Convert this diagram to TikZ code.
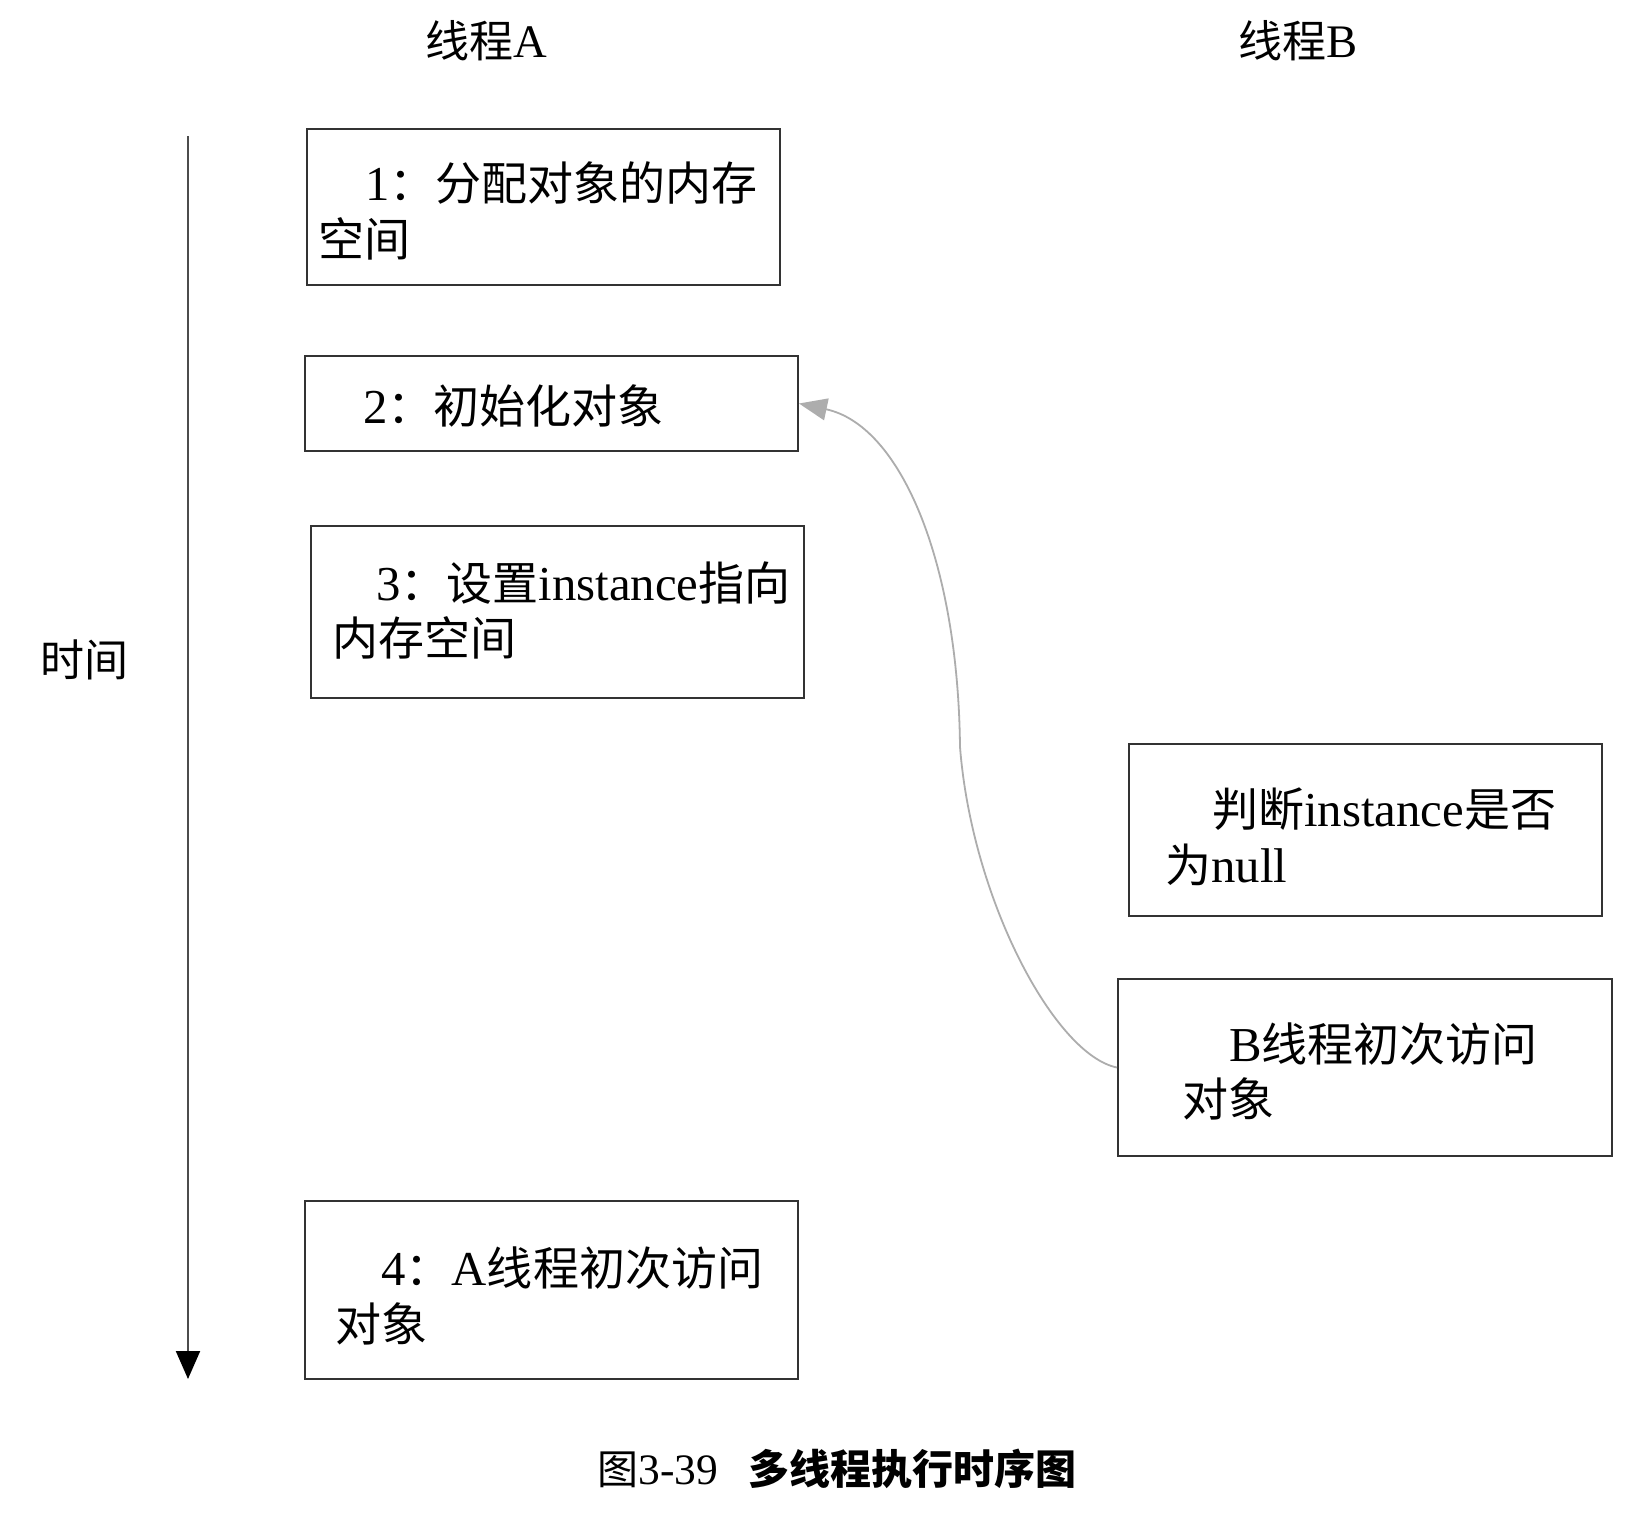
\documentclass[tikz,border=0pt]{standalone}
\usepackage{fontspec}
\setmainfont{Liberation Serif}[Scale=1.06]
\newfontfamily\cjk{Noto Sans CJK SC}
\newcommand\zh[1]{{\cjk #1}}
\usetikzlibrary{arrows.meta}
\begin{document}
\begin{tikzpicture}[x=0.5pt,y=-0.5pt,
  box/.style={draw=black!80, line width=1pt, inner sep=0pt},
  txt/.style={anchor=base west, inner sep=0pt, font=\fontsize{23pt}{27pt}\selectfont},
  lbl/.style={anchor=base west, inner sep=0pt, font=\fontsize{22pt}{26pt}\selectfont},
  captxt/.style={anchor=base west, inner sep=0pt, font=\fontsize{20.5pt}{24pt}\selectfont},
  axisline/.style={draw=black!70, line width=1pt, -{Triangle[length=14pt,width=12pt,color=black]}},
  linkline/.style={draw=black!32, line width=0.9pt, -{Triangle[length=14pt,width=11pt]}}
]
\useasboundingbox[fill=white] (0,0) rectangle (1636,1516);

% boxes
\node[box, minimum width=236.5pt, minimum height=78pt]   (bx1) at (543.5,207) {};
\node[box, minimum width=246.5pt, minimum height=47.5pt] (bx2) at (551.5,403.5) {};
\node[box, minimum width=246.5pt, minimum height=86pt]   (bx3) at (557.5,612) {};
\node[box, minimum width=236.5pt, minimum height=86pt]   (bb1) at (1365.5,830) {};
\node[box, minimum width=247pt,   minimum height=88.5pt] (bb2) at (1365,1067.5) {};
\node[box, minimum width=246.5pt, minimum height=89pt]   (bx4) at (551.5,1290) {};

% box texts
\node[txt] (t1a) at (365,200) {1\zh{：分配对象的内存}};
\node[txt] (t1b) at (318,256) {\zh{空间}};
\node[txt] (t2)  at (363,423) {2\zh{：初始化对象}};
\node[txt] (t3a) at (376,600) {3\zh{：设置}instance\zh{指向}};
\node[txt] (t3b) at (332,655) {\zh{内存空间}};
\node[txt] (tb1a) at (1212,826) {\zh{判断}instance\zh{是否}};
\node[txt] (tb1b) at (1165,882) {\zh{为}null};
\node[txt] (tb2a) at (1229,1061) {B\zh{线程初次访问}};
\node[txt] (tb2b) at (1182,1116) {\zh{对象}};
\node[txt] (t4a) at (381,1285) {4\zh{：}A\zh{线程初次访问}};
\node[txt] (t4b) at (335,1341) {\zh{对象}};

% labels
\node[lbl] (la) at (425,57) {\zh{线程}A};
\node[lbl] (lb) at (1238,57) {\zh{线程}B};
\node[lbl] (ltime) at (40,676) {\zh{时间}};
\node[captxt] (caption) at (597,1484) {\zh{图}3-39\hspace{15pt}{\cjk\bfseries 多线程执行时序图}};

% time axis
\coordinate (ts) at (188,136);
\coordinate (te) at (188,1379);
\draw[axisline] (ts) -- (te);

% access curve
\coordinate (mid) at (960,747);
\draw[linkline] (bb2.west) .. controls (1055,1055) and (972,900) .. (mid)
  .. controls (958,560) and (900,425) .. (bx2.east);
\end{tikzpicture}
\end{document}
